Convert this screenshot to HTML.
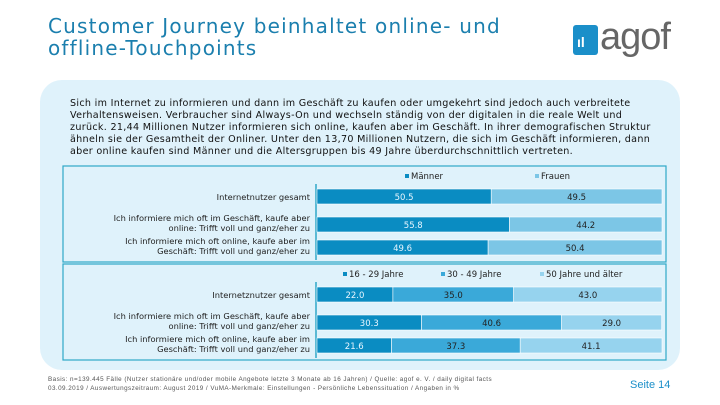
<!DOCTYPE html>
<html><head><meta charset="utf-8"><style>
body{margin:0;width:720px;height:405px;background:#fff;font-family:"Liberation Sans",sans-serif;position:relative;overflow:hidden}
.t{position:absolute;white-space:nowrap}
</style></head><body>
<div class="t" style="left:48px;top:15px;font-size:20px;line-height:22px;color:#1b7fae;font-family:'DejaVu Sans',sans-serif;letter-spacing:1.2px">Customer Journey beinhaltet online- und<br>offline-Touchpoints</div>
<div style="position:absolute;left:573px;top:25px;width:25px;height:30px;background:#1b8fc9;border-radius:3px"></div>
<div class="t" style="left:577px;top:34px;font-size:14px;color:#fff;font-weight:bold">ıl</div>
<div class="t" style="left:600px;top:16px;font-size:38px;color:#666;letter-spacing:-1px">agof</div>
<div style="position:absolute;left:40px;top:80px;width:640px;height:290px;background:#dff2fb;border-radius:22px"></div>
<div class="t" style="left:70px;top:98px;font-size:9.6px;line-height:12px;color:#111;font-family:'DejaVu Sans',sans-serif;letter-spacing:0.3px">Sich im Internet zu informieren und dann im Geschäft zu kaufen oder umgekehrt sind jedoch auch verbreitete<br>Verhaltensweisen. Verbraucher sind Always-On und wechseln ständig von der digitalen in die reale Welt und<br>zurück. 21,44 Millionen Nutzer informieren sich online, kaufen aber im Geschäft. In ihrer demografischen Struktur<br>ähneln sie der Gesamtheit der Onliner. Unter den 13,70 Millionen Nutzern, die sich im Geschäft informieren, dann<br>aber online kaufen sind Männer und die Altersgruppen bis 49 Jahre überdurchschnittlich vertreten.</div>
<svg id="c" width="720" height="405" style="position:absolute;left:0;top:0"></svg>
<div class="t" style="left:48px;top:376px;font-size:6.3px;line-height:8.5px;color:#555;letter-spacing:0.45px">Basis: n=139.445 Fälle (Nutzer stationäre und/oder mobile Angebote letzte 3 Monate ab 16 Jahren) / Quelle: agof e. V. / daily digital facts<br>03.09.2019 / Auswertungszeitraum: August 2019 / VuMA-Merkmale: Einstellungen - Persönliche Lebenssituation / Angaben in %</div>
<div class="t" style="left:630px;top:379px;font-size:11px;color:#1b8fc9">Seite 14</div>
<script>
const rowLabels=[["Internetnutzer gesamt"],["Ich informiere mich oft im Geschäft, kaufe aber","online: Trifft voll und ganz/eher zu"],["Ich informiere mich oft online, kaufe aber im","Geschäft: Trifft voll und ganz/eher zu"]];
const rowLabels2=[["Internetznutzer gesamt"],rowLabels[1],rowLabels[2]];
const genderSeries=["Männer","Frauen"];
const maleVals=[50.5,55.8,49.6];
const femaleVals=[49.5,44.2,50.4];
const ageSeries=["16 - 29 Jahre","30 - 49 Jahre","50 Jahre und älter"];
const age1=[22.0,30.3,21.6];
const age2=[35.0,40.6,37.3];
const age3=[43.0,29.0,41.1];
const svg=document.getElementById('c');const NS='http://www.w3.org/2000/svg';
function el(t,a,p){const e=document.createElementNS(NS,t);for(const k in a)e.setAttribute(k,a[k]);(p||svg).appendChild(e);return e;}
const X0=317,W=345;const xs=v=>v/100*W;
function chart(top,labels,series,vals,colors,legX,name){
  const box=el('rect',{x:63,y:top,width:603,height:96,fill:'none',stroke:'#2fa8c8','stroke-width':1.2});
  
  series.forEach((s,i)=>{
    const m=el('rect',{x:legX[i],y:top+8,width:4,height:4,fill:colors[i]});
    
    const t=el('text',{x:legX[i]+6,y:top+13,'font-size':8.5,fill:'#222','font-family':'DejaVu Sans'});t.textContent=s;
    
  });
  const ax=el('line',{x1:X0-1,y1:top+18,x2:X0-1,y2:top+94,stroke:'#2fa8c8','stroke-width':1.5});
  
  const rowY=[top+23,top+51,top+74];
  labels.forEach((lb,r)=>{
    const y=rowY[r];let x=X0;
    vals.forEach((arr,i)=>{
      const w=xs(arr[r]);
      const b=el('rect',{x:x,y:y,width:w,height:15,fill:colors[i],stroke:'#fff','stroke-width':0.6});
      
      const t=el('text',{x:x+w/2,y:y+11,'font-size':8.5,fill:i===0?'#e8f6ff':'#222','text-anchor':'middle','font-family':'DejaVu Sans'});t.textContent=arr[r].toFixed(1);
      
      x+=w;
    });
    lb.forEach((line,k)=>{
      const ly=lb.length===1?y+11:y+4+k*10;
      const t=el('text',{x:X0-7,y:ly,'font-size':8.3,fill:'#222','text-anchor':'end','font-family':'DejaVu Sans'});t.textContent=line;
      
    });
  });
}
chart(166,rowLabels,genderSeries,[maleVals,femaleVals],['#0a8cc2','#7cc6e6'],[405,535],'gender-chart');
chart(264,rowLabels2,ageSeries,[age1,age2,age3],['#0a8cc2','#3aa9d9','#96d3ee'],[343,441,540],'age-chart');
</script>
</body></html>
